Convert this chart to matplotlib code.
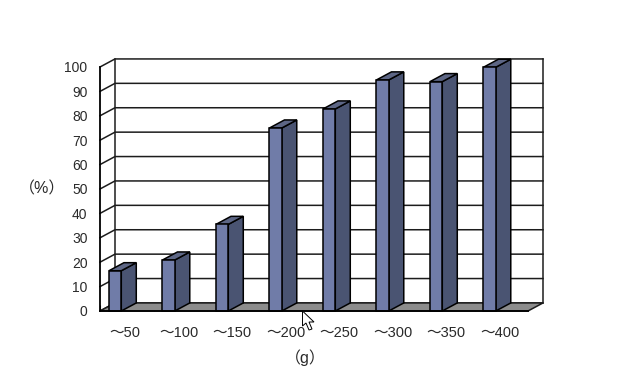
import matplotlib
matplotlib.use("Agg")
import matplotlib.pyplot as plt
from matplotlib.patches import Polygon

plt.rcParams["font.family"] = ["Liberation Sans", "Noto Sans CJK JP", "DejaVu Sans"]

# Values
CATEGORIES = ["～50", "～100", "～150", "～200", "～250", "～300", "～350", "～400"]
PERCENT = [16.5, 20.9, 35.5, 75, 82.8, 94.7, 94, 99.9]
Y_TICKS = [0, 10, 20, 30, 40, 50, 60, 70, 80, 90, 100]

# fake 3D depth, in data units
DX = 0.28
DY = 3.3
BAR_LEFT = 0.168
BAR_W = 0.23

FRONT = "#707ca8"
SIDE = "#4a5472"
TOP = "#5d6685"
FLOOR = "#8c8c8c"
LINE = "#1c1c1c"
LW = 1.1

W, H = 643, 387
fig = plt.figure(figsize=(W / 100, H / 100), dpi=100, facecolor="white")
ax = fig.add_axes([100 / W, (H - 311) / H, 428 / W, 244 / H])
ax.set_xlim(0, len(CATEGORIES))
ax.set_ylim(0, 100)
ax.patch.set_visible(False)

n = len(CATEGORIES)

# back wall and gridlines
for y in Y_TICKS:
    ax.plot([0, DX, n + DX], [y, y + DY, y + DY], color=LINE, lw=LW, clip_on=False, zorder=1)
ax.plot([DX, DX], [DY, 100 + DY], color=LINE, lw=LW, clip_on=False, zorder=1)
ax.plot([n + DX, n + DX], [DY, 100 + DY], color=LINE, lw=LW, clip_on=False, zorder=1)

# floor
ax.add_patch(Polygon([(0, 0), (DX, DY), (n + DX, DY), (n, 0)], closed=True, facecolor=FLOOR,
                     edgecolor=LINE, lw=LW, clip_on=False, zorder=2))

# bars, side and top first and then the front face
for i, v in enumerate(PERCENT):
    x0 = i + BAR_LEFT
    x1 = x0 + BAR_W
    ax.add_patch(Polygon([(x1, 0), (x1 + DX, DY), (x1 + DX, v + DY), (x1, v)], closed=True,
                         facecolor=SIDE, edgecolor="black", lw=LW, clip_on=False, zorder=3))
    ax.add_patch(Polygon([(x0, v), (x0 + DX, v + DY), (x1 + DX, v + DY), (x1, v)], closed=True,
                         facecolor=TOP, edgecolor="black", lw=LW, clip_on=False, zorder=3))
ax.bar([i + BAR_LEFT for i in range(n)], PERCENT, width=BAR_W, align="edge", color=FRONT,
       edgecolor="black", linewidth=LW, clip_on=False, zorder=4)

for side in ["top", "right"]:
    ax.spines[side].set_visible(False)
for side in ["left", "bottom"]:
    ax.spines[side].set_linewidth(LW + 0.2)
    ax.spines[side].set_color("black")
    ax.spines[side].set_zorder(5)

ax.set_yticks(Y_TICKS)
ax.tick_params(axis="y", length=0, pad=9, labelsize=10, labelcolor="#2a2a2a")
ax.set_xticks(range(n + 1))
ax.set_xticklabels([])
ax.set_xticks([i + 0.47 for i in range(n)], labels=CATEGORIES, minor=True)
ax.tick_params(axis="x", which="major", direction="in", length=4, width=0.8, color=LINE)
ax.tick_params(axis="x", which="minor", length=0, pad=11, labelsize=10.5, labelcolor="#2a2a2a")

fig.text(42 / W, 1 - 189 / H, "（%）", ha="center", va="center", fontsize=11.5, color="#2a2a2a")
fig.text(305 / W, 1 - 358 / H, "（g）", ha="center", va="center", fontsize=11.5, color="#2a2a2a")

# mouse pointer left in the screenshot
cursor = [(302.5, 311), (302.5, 326), (306, 323), (309, 330), (312, 329), (309, 322), (314, 322)]
fig.add_artist(Polygon([(x / W, 1 - y / H) for x, y in cursor], closed=True, transform=fig.transFigure,
                       facecolor="white", edgecolor="black", lw=0.7, zorder=10))

fig.savefig("out.png", dpi=100)
